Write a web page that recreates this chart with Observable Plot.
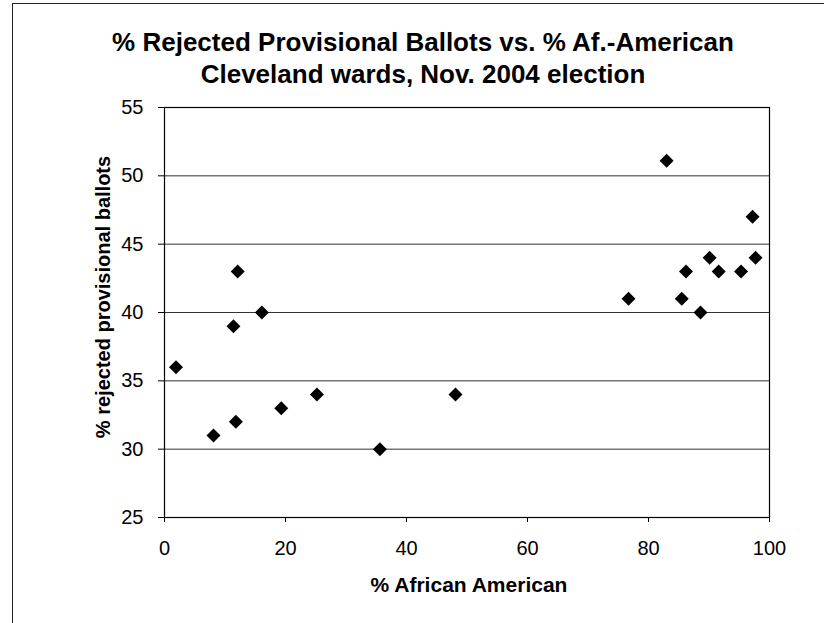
<!DOCTYPE html>
<html>
<head>
<meta charset="utf-8">
<script src="https://cdn.jsdelivr.net/npm/d3@7"></script>
<script src="https://cdn.jsdelivr.net/npm/@observablehq/plot@0.6"></script>
<style>
  body { margin: 0; background: #fff; }
  #chart { position: relative; width: 824px; height: 623px; overflow: hidden; background: #fff;
           font-family: "Liberation Sans", Arial, sans-serif; color: #000; }
  #chart svg { position: absolute; left: 0; top: 0; }
  .frame { position: absolute; left: 12px; top: 3px; width: 900px; height: 700px;
           border-left: 1.5px solid #222; border-top: 1.5px solid #222; }
  .title { position: absolute; left: 23px; width: 800px; text-align: center; font-weight: bold;
           font-size: 26px; line-height: 26px; white-space: nowrap; }
  .xlab { position: absolute; left: 169px; width: 600px; top: 574px; text-align: center;
          font-weight: bold; font-size: 21px; line-height: 21px; white-space: nowrap; }
  .ylab { position: absolute; left: -97px; top: 287px; width: 400px; text-align: center;
          font-weight: bold; font-size: 20px; line-height: 20px; white-space: nowrap;
          transform: rotate(-90deg); transform-origin: 50% 50%; }
</style>
</head>
<body>
<div id="chart">
  <div class="frame"></div>
</div>
<script>
// Data
const titleLine1 = "% Rejected Provisional Ballots vs. % Af.-American";
const titleLine2 = "Cleveland wards, Nov. 2004 election";
const xTitle = "% African American";
const yTitle = "% rejected provisional ballots";

const pctAfricanAmerican = [1.9, 8.1, 11.4, 12.1, 11.8, 16.1, 19.3, 25.2, 35.6, 48.1,
                            76.7, 83.0, 85.5, 86.2, 88.6, 90.1, 91.6, 95.3, 97.2, 97.7];
const pctRejected = [36, 31, 39, 43, 32, 40, 33, 34, 30, 34,
                     41, 51.1, 41, 43, 40, 44, 43, 43, 47, 44];

const xTicks = [0, 20, 40, 60, 80, 100];
const yTicks = [25, 30, 35, 40, 45, 50, 55];

const data = pctAfricanAmerican.map((x, i) => ({x, y: pctRejected[i]}));

const chart = Plot.plot({
  width: 824,
  height: 623,
  marginTop: 107,
  marginBottom: 106,
  marginLeft: 164,
  marginRight: 55,
  style: { fontFamily: '"Liberation Sans", Arial, sans-serif', fontSize: "20px", color: "#000", background: "transparent", overflow: "visible" },
  x: { domain: [0, 100] },
  y: { domain: [25, 55] },
  marks: [
    Plot.gridY(yTicks, { stroke: "#333", strokeOpacity: 1, strokeWidth: 1 }),
    Plot.frame({ stroke: "#000", strokeWidth: 1.2 }),
    Plot.axisX(xTicks, { tickSize: 5, tickPadding: 18, label: null, stroke: "#000", fill: "#000" }),
    Plot.axisY(yTicks, { tickSize: 6, tickPadding: 15, label: null, stroke: "#000", fill: "#000" }),
    Plot.dot(data, { x: "x", y: "y", symbol: "diamond2", r: 6.3, fill: "#000", stroke: "none" })
  ]
});

const root = document.getElementById("chart");
root.appendChild(chart);

function addDiv(cls, text, top) {
  const d = document.createElement("div");
  d.className = cls;
  d.textContent = text;
  if (top != null) d.style.top = top + "px";
  root.appendChild(d);
}
addDiv("title", titleLine1, 29);
addDiv("title", titleLine2, 61);
addDiv("xlab", xTitle);
addDiv("ylab", yTitle);
</script>
</body>
</html>
